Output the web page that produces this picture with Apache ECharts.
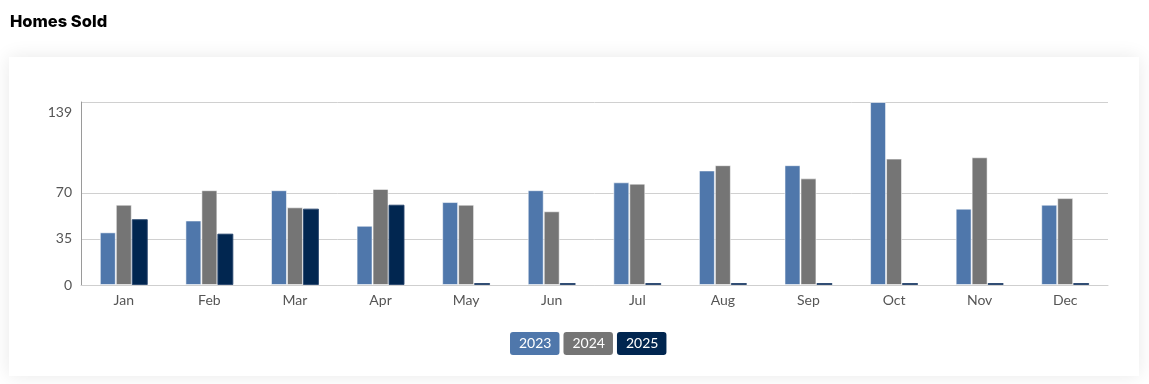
<!DOCTYPE html>
<html><head><meta charset="utf-8">
<script src="https://cdn.jsdelivr.net/npm/echarts@6/dist/echarts.min.js"></script>
<style>html,body{margin:0;padding:0;background:#fff;}#c{width:1149px;height:384px;}</style>
</head><body><div id="c"></div>
<script>
const months = ['Jan','Feb','Mar','Apr','May','Jun','Jul','Aug','Sep','Oct','Nov','Dec'];
const sold2023 = [40,49,72,45,63,72,78,87,91,139,58,61];
const sold2024 = [61,72,59,73,61,56,77,91,81,96,97,66];
const sold2025 = [50,39,58,61,0,0,0,0,0,0,0,0];
const yTicks = [0,35,70,139];
const seriesNames = ['2023','2024','2025'];
const colors = ['#4f77ab','#757575','#012650'];
const borders = ['rgba(255,255,255,0.55)','rgba(255,255,255,0.55)','rgba(40,70,110,0.9)'];

const chart = echarts.init(document.getElementById('c'));
chart.setOption({
  animation:false,
  textStyle:{fontFamily:'Lato, "Open Sans", sans-serif'},
  title:{text:'Homes Sold', left:10, top:14, padding:0,
    textStyle:{fontFamily:'Inter, sans-serif', fontWeight:800, fontSize:16.5, color:'#000'}},
  graphic:[{type:'rect', z:-10, shape:{x:9,y:57,width:1130,height:319},
    style:{fill:'#fff', shadowBlur:18, shadowColor:'rgba(0,0,0,0.09)'}}],
  grid:{left:81, right:41, top:102, bottom:99},
  legend:{left:505, top:332, padding:0, itemWidth:0, itemHeight:0, itemGap:-1, icon:'none',
    selectedMode:false,
    data: seriesNames.map((n,i)=>({name:n, textStyle:{backgroundColor:colors[i], color:'#fff',
      padding:[4,8,4,9], borderRadius:3, fontSize:14, lineHeight:15}}))},
  xAxis:{type:'category', data:months,
    axisLine:{lineStyle:{color:'#cfcfcf'}}, axisTick:{show:false},
    axisLabel:{color:'#555', fontSize:14, margin:8}},
  yAxis:{type:'value', min:0, max:139,
    axisLine:{show:true, lineStyle:{color:'#9a9a9a'}},
    axisTick:{show:false, customValues:yTicks},
    splitLine:{lineStyle:{color:'#d0d0d0'}},
    axisLabel:{color:'#555', fontSize:14, margin:9, customValues:yTicks,
      formatter: v => v===139 ? '{t|139}' : String(v),
      rich:{t:{padding:[20,0,0,0], fontSize:14, color:'#555'}}}},
  series:[sold2023, sold2024, sold2025].map((d,i)=>({
    type:'bar', name:seriesNames[i], data:d, barGap:'0%', barCategoryGap:'44%',
    barMinHeight: i===2 ? 2 : 0,
    itemStyle:{color:colors[i], borderColor:borders[i], borderWidth:1}
  }))
});
</script></body></html>
